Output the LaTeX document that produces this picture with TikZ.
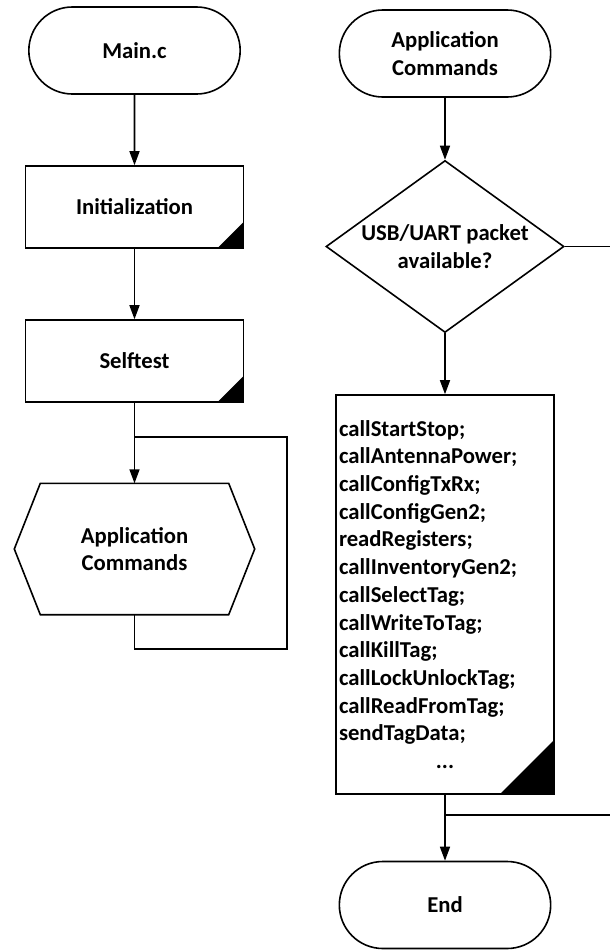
\documentclass[tikz,border=0pt]{standalone}
\usepackage{fontspec}
\setmainfont{Carlito}
\usetikzlibrary{shapes.misc,shapes.geometric,arrows.meta}

\tikzset{
  txt/.style={font=\fontsize{22.7}{27.7}\selectfont\bfseries, align=center},
  line/.style={line width=1.6pt},
  arrow/.style={line, -{Triangle[length=14pt,width=10pt]}},
  corner/.style={path picture={\fill (path picture bounding box.south east) -- ++(-#1,0pt) -- ++(#1,#1) -- cycle;}},
  terminal/.style={txt, line, draw, rounded rectangle, minimum width=218pt, minimum height=87pt},
  process/.style={txt, line, draw, rectangle, minimum width=218pt, minimum height=82pt, corner=26pt},
  decision/.style={line, draw, diamond, minimum width=238pt, minimum height=172pt},
}

\begin{document}
\begin{tikzpicture}[x=1pt,y=1pt]
  \useasboundingbox (0,0) rectangle (610,-951);

  % main loop
  \node[terminal] (main) at (134.5,-50.5) {Main.c};
  \node[process, node distance=156.5pt, below of=main] (init) {Initialization};
  \node[process, node distance=154pt, below of=init] (self) {Selftest};
  \node[txt, minimum width=240pt, minimum height=131pt, node distance=188pt, below of=self] (hex) {Application\\Commands};
  \draw[line] (hex.west) -- ([xshift=26pt]hex.north west) -- ([xshift=-26pt]hex.north east)
    -- (hex.east) -- ([xshift=-26pt]hex.south east) -- ([xshift=26pt]hex.south west) -- cycle;

  \draw[arrow] (main) -- (init);
  \draw[arrow] (init) -- (self);
  \draw[arrow] (self) -- (hex);
  \coordinate (loopin) at ([yshift=-34pt]self.south);
  \coordinate (loopout) at ([yshift=-34pt]hex.south);
  \draw[line] (hex.south) -- (loopout) -| ([xshift=152.5pt]loopin) -- (loopin);

  % application commands
  \node[terminal] (appcmd) at (445,-53.5) {Application\\Commands};
  \node[decision, node distance=193pt, below of=appcmd,
        label={[txt]center:USB/UART packet\\available?}] (packet) {};
  \node[process, corner=54pt, minimum height=399pt, align=left, text width=212pt, inner xsep=3pt,
        node distance=348pt, below of=packet] (calls)
    {callStartStop;\\callAntennaPower;\\callConfigTxRx;\\callConfigGen2;\\readRegisters;\\
     callInventoryGen2;\\callSelectTag;\\callWriteToTag;\\callKillTag;\\callLockUnlockTag;\\
     callReadFromTag;\\sendTagData;\\\makebox[212pt][c]{...}};
  \node[terminal, node distance=310.5pt, below of=calls] (endn) {End};

  \coordinate (rightedge) at (610,0);
  \coordinate (merge) at ([yshift=-20pt]calls.south);
  \draw[arrow] (appcmd) -- (packet);
  \draw[arrow] (packet) -- (calls);
  \draw[arrow] (calls) -- (endn);
  \draw[line] (packet.east) -- (packet.east -| rightedge);
  \draw[line] (merge) -- (merge -| rightedge);
\end{tikzpicture}
\end{document}
